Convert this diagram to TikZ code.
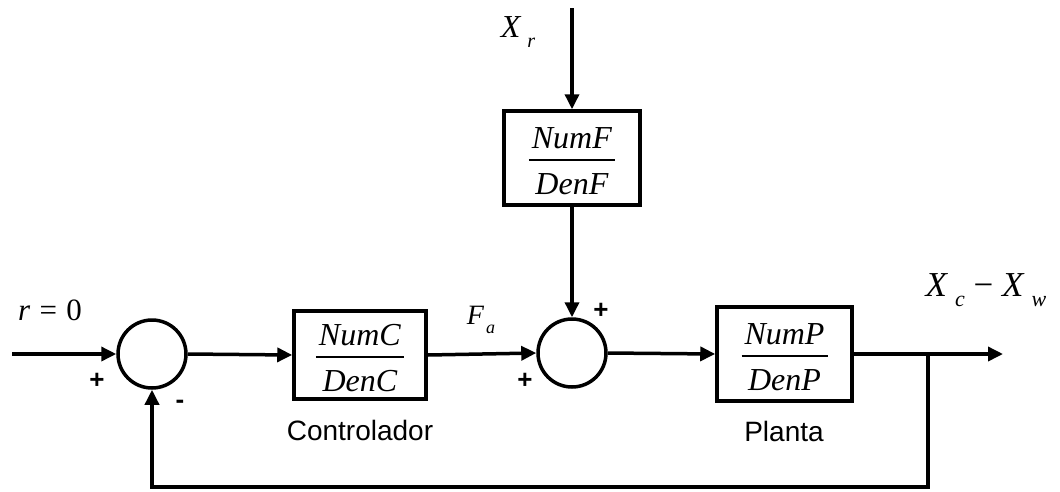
\documentclass[tikz,border=0pt]{standalone}
\usepackage{fontspec}
\setmainfont{Liberation Serif}
\newfontfamily\arial{Liberation Sans}
\usetikzlibrary{arrows.meta}
\setlength{\arrayrulewidth}{2pt}
\newcommand{\tfrac}[2]{\fontsize{32}{36}\selectfont\raisebox{-6pt}[\height][\depth]{\begin{tabular}{@{\hspace{3pt}}c@{\hspace{3pt}}}\textit{#1}\\\hline\rule{0pt}{33pt}\textit{#2}\end{tabular}}}
\newcommand{\sbs}[5]{{\fontsize{#3}{#3}\selectfont\textit{#1}\kern#5\raisebox{-0.3em}{\fontsize{#4}{#4}\selectfont\textit{#2}}}}
\begin{document}
\begin{tikzpicture}[x=1pt,y=-1pt,
  ln/.style={line width=3.5pt},
  arr/.style={ln,-{Triangle[length=15pt,width=14pt]}},
  blk/.style={draw,line width=3.5pt,rectangle,inner sep=0pt},
  sumj/.style={draw,line width=3.5pt,circle,minimum size=68pt,inner sep=0pt},
  sgn/.style={font=\arial\bfseries\fontsize{26}{26}\selectfont,inner sep=0pt},
  lbl/.style={font=\arial\fontsize{28}{28}\selectfont,inner sep=0pt}]
\useasboundingbox (0,0) rectangle (1060,491);
\node[sumj] (s1) at (152,354) {};
\node[sumj] (s2) at (572,353) {};
\node[blk,minimum width=132pt,minimum height=88pt] (C) at (360,355) {\tfrac{NumC}{DenC}};
\node[blk,minimum width=136pt,minimum height=94pt] (F) at (572,158) {\tfrac{NumF}{DenF}};
\node[blk,minimum width=135pt,minimum height=94pt] (P) at (784.5,354) {\tfrac{NumP}{DenP}};
\coordinate (in) at (12,354);
\coordinate (xr) at (572,8);
\coordinate (out) at (1003,354);
\coordinate (br) at (928,354);
\coordinate (fb) at (928,487);
% connectors
\draw[arr] (in) -- (s1.west);
\draw[arr] (s1.east) -- (C.west);
\draw[arr] (C.east) -- (s2.west);
\draw[arr] (xr) -- (F.north);
\draw[arr] (F.south) -- (s2.north);
\draw[arr] (s2.east) -- (P.west);
\draw[arr] (P.east) -- (out);
\draw[arr] (br) -- (fb) -| (s1.south);
% labels
\node[inner sep=0pt,font=\fontsize{31}{31}\selectfont] (r0) at (50,310) {\textit{r}\hspace{0.3em}=\hspace{0.3em}0};
\node[sgn] (p1) at (97,381) {+};
\node[sgn] (m1) at (180,404) {-};
\node[sgn] (p2) at (601,311) {+};
\node[sgn] (p3) at (525,381) {+};
\node[inner sep=0pt] (fa) at (481,320) {\sbs{F}{a}{28}{18}{2pt}};
\node[inner sep=0pt] (xrl) at (518,32) {\sbs{X}{r}{32}{20}{6pt}};
\node[inner sep=0pt] (xo) at (986,290) {\sbs{X}{c}{35}{22}{7pt}{\fontsize{35}{35}\selectfont\ −\ }\sbs{X}{w}{35}{22}{7pt}};
\node[lbl] (cl) at (360,430) {Controlador};
\node[lbl] (pl) at (784,431) {Planta};
\end{tikzpicture}
\end{document}
